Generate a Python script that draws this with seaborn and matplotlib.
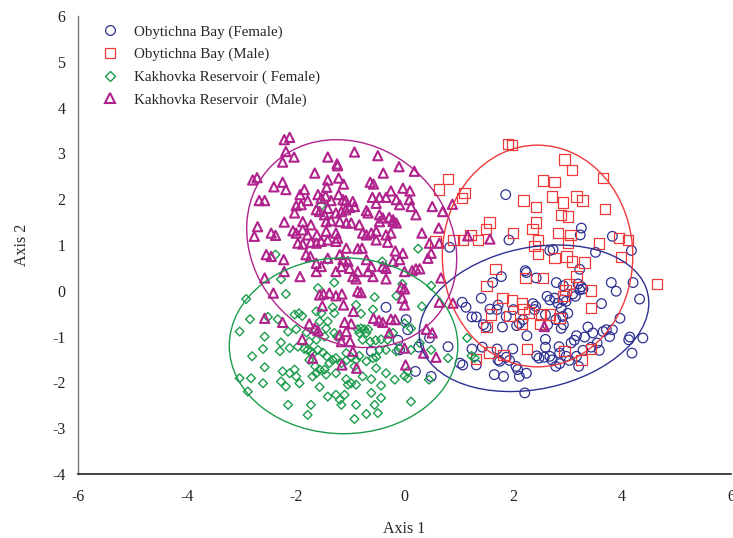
import numpy as np
import matplotlib
matplotlib.use("Agg")
import matplotlib.pyplot as plt
import seaborn as sns
import pandas as pd
from matplotlib.patches import Ellipse
from matplotlib.lines import Line2D

# ---------------- data ----------------
group_labels = ["Obytichna Bay (Female)", "Obytichna Bay (Male)",
                "Kakhovka Reservoir ( Female)", "Kakhovka Reservoir  (Male)"]

ob_female = [(0.83,0.95),(1.92,1.11),(3.23,1.22),(3.82,1.19),(3.51,0.84),(4.17,0.88),(2.73,0.90),(2.67,0.88),(3.22,0.47),(2.22,0.44),(2.24,0.40),(1.78,0.31),(1.62,0.18),(2.42,0.28),(2.79,0.18),(2.92,0.11),(3.19,0.15),(3.25,0.09),(3.28,0.04),(3.22,0.02),(3.09,-0.07),(2.62,-0.12),(2.67,-0.20),(2.76,-0.16),(2.91,-0.20),(2.97,-0.23),(2.82,-0.27),(2.88,-0.38),(3.00,-0.49),(3.14,-0.12),(3.80,0.18),(3.89,-0.01),(4.20,0.18),(4.32,-0.18),(3.62,-0.28),(1.41,-0.16),(1.06,-0.25),(1.13,-0.36),(1.72,-0.31),(2.36,-0.28),(2.41,-0.34),(2.39,-0.41),(2.00,-0.41),(1.70,-0.41),(1.57,-0.40),(1.32,-0.57),(1.24,-0.57),(2.59,-0.52),(2.78,-0.63),(2.91,-0.56),(2.92,-0.74),(2.88,-0.82),(2.63,-0.74),(2.18,-0.63),(2.11,-0.71),(2.06,-0.76),(1.87,-0.56),(1.80,-0.79),(1.45,-0.74),(1.50,-0.79),(3.96,-0.60),(3.37,-0.79),(3.46,-0.92),(3.71,-0.85),(3.82,-0.85),(3.65,-0.89),(3.77,-1.00),(4.14,-1.01),(4.12,-1.07),(4.38,-1.03),(3.31,-1.01),(3.16,-0.98),(3.12,-1.08),(3.06,-1.14),(2.84,-1.22),(2.59,-1.06),(2.59,-1.23),(2.25,-0.98),(1.99,-1.27),(1.70,-1.27),(1.43,-1.23),(1.24,-1.27),(0.80,-1.22),(1.02,-1.58),(1.07,-1.62),(1.32,-1.62),(1.72,-1.51),(1.87,-1.45),(1.75,-1.54),(1.93,-1.52),(2.05,-1.65),(2.08,-1.72),(2.43,-1.42),(2.47,-1.47),(2.57,-1.45),(2.67,-1.43),(2.71,-1.51),(2.85,-1.36),(2.97,-1.43),(3.03,-1.52),(3.16,-1.43),(3.28,-1.30),(3.43,-1.23),(3.58,-1.30),(4.18,-1.36),(3.54,-1.14),(2.78,-1.65),(2.85,-1.59),(3.20,-1.65),(2.24,-1.80),(2.11,-1.87),(1.82,-1.87),(1.65,-1.83),(2.21,-2.23),(0.20,-1.76),(0.26,-1.23),(0.49,-1.87),(1.86,2.10),(3.25,1.37),(-0.34,-0.36),(0.03,-0.63),(0.06,-0.85),(-0.12,-1.08),(-0.61,-1.32),(-0.09,-1.29),(0.46,-1.03)]

ob_male = [(1.90,3.21),(1.98,3.19),(2.94,2.87),(3.08,2.64),(0.80,2.44),(0.63,2.21),(1.10,2.13),(1.06,2.02),(2.54,2.41),(2.76,2.37),(3.65,2.46),(2.19,1.97),(2.42,1.83),(2.71,2.06),(2.91,1.93),(3.16,2.06),(3.27,1.97),(3.68,1.79),(2.88,1.66),(3.00,1.62),(1.56,1.49),(1.50,1.35),(2.42,1.49),(2.35,1.35),(0.57,1.08),(0.90,1.11),(1.08,1.11),(1.21,1.22),(1.35,1.11),(1.99,1.26),(2.82,1.26),(3.05,1.22),(3.00,1.04),(2.39,0.98),(2.45,0.81),(3.57,1.03),(3.94,1.15),(4.11,1.11),(3.98,0.74),(2.76,0.71),(2.98,0.75),(3.08,0.64),(3.31,0.62),(1.67,0.47),(1.51,0.11),(2.22,0.28),(2.54,0.28),(3.16,0.31),(3.02,0.15),(2.96,0.02),(3.43,0.01),(2.92,-0.12),(4.64,0.15),(1.80,-0.16),(1.98,-0.21),(2.16,-0.28),(2.19,-0.40),(2.29,-0.47),(1.93,-0.55),(1.59,-0.52),(1.51,-0.79),(2.51,-0.52),(2.67,-0.52),(2.85,-0.60),(2.16,-0.72),(2.49,-0.72),(3.43,-0.38),(1.56,-1.35),(1.82,-1.40),(1.31,-1.49),(2.25,-1.27),(2.94,-1.32),(3.43,-1.27),(3.25,-1.51),(2.45,1.11)]

kr_female = [(-2.27,0.25),(-2.91,-0.18),(-2.18,-0.07),(-2.84,-0.62),(-3.03,-0.89),(-2.51,-0.57),(-2.33,-0.62),(-2.02,-0.52),(-1.94,-0.49),(-1.88,-0.55),(-1.62,-0.45),(-1.53,-0.49),(-1.32,-0.36),(-1.29,-0.49),(-1.59,0.06),(-1.29,0.18),(-0.89,-0.31),(-0.80,-0.50),(-0.58,-0.41),(-0.55,-0.14),(-0.15,-0.11),(-0.04,0.15),(0.32,-0.34),(0.49,0.11),(0.00,-0.71),(0.12,-0.82),(-2.57,-1.00),(-2.27,-1.13),(-2.14,-0.89),(-1.99,-0.84),(-1.80,-0.91),(-1.64,-0.85),(-1.56,-0.67),(-1.41,-0.67),(-1.44,-0.82),(-1.29,-0.92),(-1.47,-1.00),(-1.24,-1.00),(-1.75,-1.11),(-1.62,-1.07),(-0.86,-0.84),(-0.80,-0.82),(-0.74,-0.84),(-0.67,-0.84),(-0.83,-0.92),(-0.70,-0.92),(-0.77,-1.07),(-0.63,-1.11),(-0.53,-1.08),(-0.43,-1.06),(-0.21,-0.92),(-0.09,-1.25),(-2.80,-1.43),(-2.60,-1.27),(-2.29,-1.32),(-2.11,-1.25),(-1.96,-1.22),(-1.84,-1.27),(-1.78,-1.29),(-1.72,-1.32),(-1.69,-1.38),(-1.59,-1.29),(-1.50,-1.35),(-1.43,-1.43),(-1.32,-1.51),(-1.26,-1.47),(-1.75,-1.51),(-1.64,-1.65),(-1.56,-1.72),(-1.62,-1.80),(-1.47,-1.72),(-1.38,-1.58),(-1.07,-1.36),(-0.98,-1.45),(-0.89,-1.51),(-0.83,-1.42),(-1.07,-1.52),(-1.16,-1.58),(-0.92,-1.65),(-0.70,-1.54),(-0.58,-1.47),(-0.52,-1.45),(-0.46,-1.29),(-0.34,-1.29),(-0.31,-1.07),(-0.15,-1.32),(0.12,-1.29),(0.28,-1.14),(0.49,-1.29),(0.80,-1.47),(-2.57,-1.67),(-3.03,-1.91),(-2.82,-1.91),(-2.60,-2.02),(-2.24,-1.76),(-2.11,-1.80),(-2.02,-1.72),(-1.99,-1.87),(-2.27,-1.98),(-2.18,-2.09),(-1.93,-2.02),(-1.69,-1.87),(-1.56,-2.10),(-1.44,-1.83),(-1.26,-1.80),(-1.07,-1.93),(-1.04,-2.05),(-0.98,-2.02),(-0.89,-2.05),(-0.77,-1.87),(-0.61,-1.93),(-0.43,-2.07),(-0.52,-1.69),(-0.34,-1.80),(-0.18,-1.94),(0.00,-1.86),(0.06,-1.91),(0.06,-1.76),(0.45,-1.94),(-2.88,-2.20),(-2.14,-2.49),(-1.72,-2.49),(-1.78,-2.71),(-1.41,-2.31),(-1.26,-2.27),(-1.19,-2.38),(-1.16,-2.49),(-1.10,-2.27),(-0.89,-2.49),(-0.70,-2.69),(-0.55,-2.49),(-0.49,-2.67),(-0.61,-2.23),(-0.43,-2.34),(-0.92,-2.80),(0.12,-2.42),(-2.37,0.79),(-1.41,0.68),(-0.41,0.64),(0.25,0.92),(-1.53,1.86),(1.15,-1.03),(1.23,-1.42),(1.29,-1.47)]

kr_male = [(-2.21,3.30),(-2.11,3.35),(-2.18,3.04),(-2.03,2.92),(-2.24,2.81),(-1.41,2.92),(-0.92,3.03),(-0.49,2.95),(-1.24,2.77),(-1.23,2.73),(-0.10,2.71),(-1.65,2.57),(-1.41,2.42),(-1.21,2.46),(-1.12,2.33),(-0.39,2.57),(0.18,2.61),(-2.79,2.42),(-2.71,2.47),(-2.40,2.27),(-2.24,2.37),(-2.18,2.21),(-1.84,2.21),(-1.92,2.10),(-0.63,2.37),(-0.57,2.33),(-0.03,2.24),(0.10,2.18),(-0.25,2.18),(-2.67,1.97),(-2.57,1.97),(-1.99,1.86),(-1.90,1.88),(-1.78,1.97),(-1.59,2.10),(-1.53,2.02),(-1.43,2.26),(-1.45,2.07),(-1.35,1.97),(-1.21,2.10),(-1.13,1.99),(-1.08,1.97),(-0.95,1.95),(-0.59,2.04),(-0.46,2.04),(-0.34,2.04),(-0.15,1.99),(0.09,1.99),(0.12,1.84),(-0.09,1.88),(-0.52,1.91),(-1.62,1.77),(-1.56,1.73),(-1.41,1.80),(-1.47,1.66),(-1.26,1.70),(-1.16,1.73),(-1.08,1.77),(-1.01,1.82),(-0.92,1.84),(-0.70,1.75),(-0.67,1.70),(-0.46,1.66),(-0.40,1.59),(-0.28,1.60),(-0.21,1.55),(-0.15,1.48),(0.21,1.66),(0.51,1.84),(-2.02,1.70),(-2.21,1.50),(-1.87,1.51),(-1.72,1.44),(-1.44,1.51),(-1.35,1.53),(-1.19,1.51),(-1.07,1.48),(-0.98,1.48),(-0.83,1.44),(-0.46,1.51),(-0.21,1.51),(-2.70,1.40),(-2.76,1.19),(-2.45,1.26),(-2.37,1.21),(-2.05,1.31),(-1.99,1.26),(-1.87,1.33),(-1.78,1.22),(-1.61,1.22),(-1.44,1.30),(-1.26,1.26),(-1.23,1.15),(-0.77,1.26),(-0.70,1.22),(-0.61,1.26),(-0.52,1.30),(-0.34,1.22),(-0.25,1.26),(0.32,1.26),(0.63,1.37),(0.70,1.73),(0.88,1.89),(-1.96,1.04),(-1.87,1.02),(-1.72,1.06),(-1.62,1.04),(-1.53,1.08),(-1.41,1.11),(-1.26,1.08),(-1.07,0.93),(-0.86,0.92),(-0.78,0.93),(-0.52,1.11),(-0.31,1.06),(-0.17,0.87),(-0.03,0.82),(0.46,1.04),(0.64,1.04),(0.49,0.82),(0.43,0.71),(-2.54,0.79),(-2.45,0.75),(-2.22,0.68),(-1.81,0.79),(-1.73,0.75),(-1.62,0.60),(-1.53,0.53),(-1.41,0.71),(-1.19,0.79),(-1.13,0.68),(-1.16,0.53),(-1.04,0.64),(-1.01,0.49),(-0.86,0.42),(-0.70,0.68),(-0.61,0.53),(-0.67,0.42),(-0.40,0.53),(-0.34,0.49),(-0.21,0.64),(-0.09,0.68),(0.00,0.42),(0.14,0.44),(0.21,0.48),(0.28,0.48),(-1.92,0.31),(-2.21,0.42),(-2.57,0.28),(-1.62,0.42),(-1.26,0.42),(-0.95,0.31),(-0.89,0.26),(-0.58,0.31),(-0.34,0.26),(0.67,0.28),(-0.06,0.08),(0.00,0.04),(-2.41,-0.05),(-1.56,-0.09),(-1.49,-0.07),(-1.38,-0.05),(-1.26,-0.11),(-1.15,-0.07),(-0.86,-0.01),(-0.80,-0.04),(-0.04,-0.16),(0.00,-0.31),(-1.12,-0.31),(-0.94,-0.45),(-1.51,-0.33),(0.64,-0.25),(0.89,-0.27),(-2.57,-0.60),(-2.24,-0.69),(-1.75,-0.72),(-1.65,-0.82),(-1.59,-0.87),(-1.10,-0.69),(-0.98,-0.72),(-0.57,-0.60),(-0.47,-0.65),(-0.40,-0.69),(-0.25,-0.62),(-0.17,-0.63),(-1.07,-0.89),(-1.19,-0.96),(-0.28,-0.92),(-1.88,-1.06),(-1.16,-1.11),(-1.00,-1.11),(0.40,-0.84),(0.51,-0.92),(-0.95,-1.32),(0.00,-1.25),(0.35,-1.36),(0.58,-1.45),(-1.69,-1.47),(-1.15,-1.62),(-0.88,-1.69),(0.02,-1.62),(2.57,-0.78),(1.16,1.20),(1.57,1.13)]

# ellipse parameters (centre, half-extent in x / y, xy covariance term)
ell_cx = [2.38, 2.445, -1.12, -0.97]
ell_cy = [-0.60, 0.76, -1.20, 1.03]
ell_sx = [2.11, 1.75, 2.10, 1.93]
ell_sy = [1.60, 2.42, 1.92, 2.27]
ell_cxy = [0.70, 0.0, 0.0, -0.63]

x_ticks = [-6, -4, -2, 0, 2, 4, 6]
y_ticks = [-4, -3, -2, -1, 0, 1, 2, 3, 4, 5, 6]

# ---------------- styling ----------------
point_colors = ["#2E3192", "#EF3A3C", "#1C9C4C", "#B0228C"]
markers = ["o", "s", "D", "^"]
sizes = [48, 56, 20, 44]
lws = [0.9, 0.9, 1.0, 1.5]

sns.set_style("white")
plt.rcParams["font.family"] = ["Liberation Serif", "DejaVu Serif"]

fig = plt.figure(figsize=(7.33, 5.38), dpi=100)
ax = fig.add_axes([78/733, 1-474/538, 653/733, 458/538])

groups = [ob_female, ob_male, kr_female, kr_male]
frames = []
for lab, pts in zip(group_labels, groups):
    a = np.array(pts)
    frames.append(pd.DataFrame({"x": a[:, 0], "y": a[:, 1], "group": lab}))
df = pd.concat(frames, ignore_index=True)

order = [2, 3, 1, 0]
for i in order:
    sub = df[df["group"] == group_labels[i]]
    sns.scatterplot(data=sub, x="x", y="y", ax=ax, marker=markers[i], s=sizes[i],
                    color=point_colors[i], facecolor="none", edgecolor=point_colors[i],
                    linewidth=lws[i], zorder=3 + i, legend=False)

for i in range(4):
    M = np.array([[ell_sx[i]**2, ell_cxy[i]], [ell_cxy[i], ell_sy[i]**2]])
    vals, vecs = np.linalg.eigh(M)
    ang = np.degrees(np.arctan2(vecs[1, 1], vecs[0, 1]))
    e = Ellipse((ell_cx[i], ell_cy[i]), width=2*np.sqrt(vals[1]), height=2*np.sqrt(vals[0]),
                angle=ang, fill=False, edgecolor=point_colors[i], linewidth=1.0, zorder=10)
    ax.add_patch(e)

ax.set_xlim(-6, 6)
ax.set_ylim(-4, 6)
ax.set_xticks(x_ticks)
ax.set_yticks(y_ticks)
ax.set_xticklabels([str(t) for t in x_ticks])
ax.set_yticklabels([str(t) for t in y_ticks])
for s in ["top", "right"]:
    ax.spines[s].set_visible(False)
ax.spines["left"].set_color("#777777")
ax.spines["left"].set_linewidth(1.0)
ax.spines["bottom"].set_color("#222222")
ax.spines["bottom"].set_linewidth(1.2)
ax.tick_params(axis="both", width=0.8, colors="#222222", labelsize=11.5)
ax.tick_params(axis="x", direction="inout", length=5, pad=8)
ax.tick_params(axis="y", direction="out", length=4, pad=5, color="#777777")
ax.set_xlabel("Axis 1", fontsize=11.5, labelpad=12)
ax.set_ylabel("Axis 2", fontsize=11.5, labelpad=16)

handles = [Line2D([0], [0], linestyle="none", marker=markers[i], markersize=[7, 7.5, 5, 7][i],
                  markerfacecolor="none", markeredgecolor=point_colors[i],
                  markeredgewidth=lws[i]) for i in range(4)]
ax.legend(handles, group_labels, loc="upper left", bbox_to_anchor=(0.022, 1.0),
          frameon=False, fontsize=10.8, handlelength=1.2, handletextpad=1.0,
          labelspacing=0.6, borderaxespad=0.2)

fig.savefig("out.png", dpi=100)
